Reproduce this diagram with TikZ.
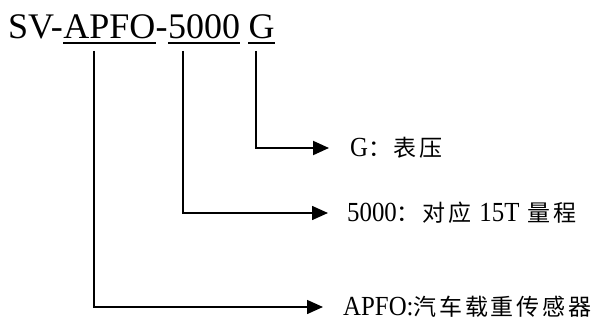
\documentclass[tikz,border=0pt]{standalone}
\usepackage{fontspec}
\setmainfont{Liberation Serif}
\newfontfamily\cjk[LetterSpace=12]{Noto Sans CJK SC}
\newfontfamily\lat[Scale=1.2,FakeStretch=0.9]{Liberation Serif}
\usetikzlibrary{arrows.meta}
\begin{document}
\begin{tikzpicture}[x=1pt,y=-1pt,
  titlepart/.style={inner sep=0pt, anchor=base west, font=\fontsize{36}{36}\selectfont},
  lbl/.style={inner sep=0pt, anchor=west, font=\fontsize{23}{23}\selectfont},
  conn/.style={line width=1.5pt, -{Triangle[length=16pt,width=14pt]}},
  uline/.style={line width=2pt}]
\useasboundingbox (0,0) rectangle (597,321);
% title
\node[titlepart] (sv) at (8,39) {SV-};
\node[titlepart] (apfo) at (sv.base east) {APFO};
\node[titlepart] (dashb) at (apfo.base east) {-};
\node[titlepart] (num) at (dashb.base east) {5000};
\node[titlepart, xshift=8pt] (g) at (num.base east) {G};
\draw[uline] ([yshift=-4pt]apfo.base west) -- ([yshift=-4pt]apfo.base east);
\draw[uline] ([yshift=-4pt]num.base west) -- ([yshift=-4pt]num.base east);
\draw[uline] ([yshift=-4pt]g.base west) -- ([yshift=-4pt]g.base east);
% labels
\node[lbl] (lg) at (350,148) {{\lat G}{\cjk ：表压}};
\node[lbl] (ln) at (347,213) {{\lat 5000}{\cjk ：对应}\hspace{0.35em}{\lat 15T}\hspace{0.35em}{\cjk 量程}};
\node[lbl] (la) at (343,307) {{\lat APFO:}{\cjk 汽车载重传感器}};
% connector tops
\coordinate (tg) at (256,51);
\coordinate (tn) at (183,51);
\coordinate (ta) at (94,51);
\draw[conn, line width=2pt] (tg) |- ([xshift=-21pt]lg.west);
\draw[conn] (tn) |- ([xshift=-19pt]ln.west);
\draw[conn] (ta) |- ([xshift=-20pt]la.west);
\end{tikzpicture}
\end{document}
